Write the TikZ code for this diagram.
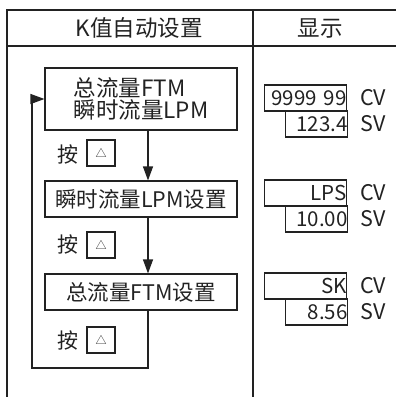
\documentclass[tikz,border=0pt]{standalone}
\usepackage{fontspec}
\setmainfont{Noto Sans CJK SC}
\usetikzlibrary{arrows.meta}
\definecolor{ink}{HTML}{222222}
\tikzset{
  fs/.style={font=\fontsize{#1}{#1}\selectfont},
  box/.style={draw=ink, line width=1.1pt, inner sep=0pt, text=ink},
  stepbox/.style={box, minimum width=192pt},
  keybox/.style={box, minimum width=28pt, minimum height=26pt, font=\fontsize{11}{12}\selectfont},
  cvbox/.style={box, minimum height=26pt, text width=#1, align=right, fs=20.5},
  lbl/.style={text=ink, fs=21.5, inner sep=0pt},
  arr/.style={-{Triangle[width=10pt,length=14pt]}, draw=ink, line width=1.1pt},
  ln/.style={draw=ink, line width=1.1pt}
}
\begin{document}
\begin{tikzpicture}[x=1pt,y=-1pt]
\useasboundingbox (0,0) rectangle (396,397);
% table
\draw[ln] (7,397) -- (7,10) -- (396,10);
\draw[ln] (7,46) -- (396,46);
\draw[ln] (253,10) -- (253,397);
\node[lbl, fs=22.5] (h1) at (139,28) {K值自动设置};
\node[lbl, fs=22.5] (h2) at (320,28) {显示};
% steps
\node[stepbox, minimum height=62pt, align=left, font=\fontsize{22.5}{22}\selectfont] (b1) at (141,99) {\raisebox{2pt}{总流量FTM}\\\raisebox{2pt}{瞬时流量LPM}};
\node[stepbox, minimum height=36pt, fs=21.5] (b2) at (141,199) {瞬时流量LPM设置};
\node[stepbox, minimum height=36pt, fs=21.5] (b3) at (141,292) {总流量FTM设置};
% keys
\node[lbl, fs=21] (k1) at (68,154) {按};
\node[keybox] (kb1) at (101,153) {△};
\node[lbl, fs=21] (k2) at (68,244) {按};
\node[keybox] (kb2) at (101,245) {△};
\node[lbl, fs=21] (k3) at (68,340) {按};
\node[keybox] (kb3) at (101,340) {△};
% connectors
\coordinate (cx) at (148,0);
\coordinate (lb) at (148,368);
\coordinate (ll) at (32,368);
\draw[arr] (cx |- b1.south) -- (cx |- b2.north);
\draw[arr] (cx |- b2.south) -- (cx |- b3.north);
\draw[arr] (cx |- b3.south) -- (lb) -- (ll) |- (b1.west);
% displays
\node[cvbox=82pt] (d1) at (305.5,98) {9999 99\hspace{3pt}};
\node[cvbox=62pt] (d2) at (316.5,124) {123.4\hspace{3pt}};
\node[lbl] (c1) at (373,98) {CV};
\node[lbl] (s1) at (373,124) {SV};
\node[cvbox=82pt] (d3) at (305.5,193) {LPS\hspace{3pt}};
\node[cvbox=62pt] (d4) at (316.5,219) {10.00\hspace{3pt}};
\node[lbl] (c2) at (373,193) {CV};
\node[lbl] (s2) at (373,219) {SV};
\node[cvbox=82pt] (d5) at (305.5,286) {SK\hspace{3pt}};
\node[cvbox=62pt] (d6) at (316.5,312) {8.56\hspace{3pt}};
\node[lbl] (c3) at (373,286) {CV};
\node[lbl] (s3) at (373,312) {SV};
\end{tikzpicture}
\end{document}
